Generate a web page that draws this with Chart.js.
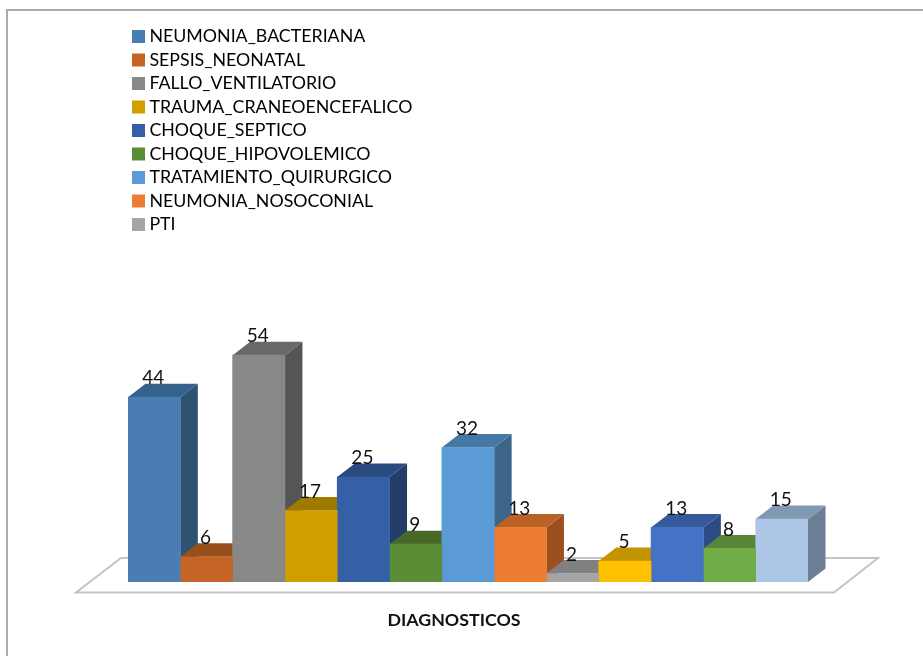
<!DOCTYPE html>
<html>
<head>
<meta charset="utf-8">
<title>DIAGNOSTICOS</title>
<script src="https://cdn.jsdelivr.net/npm/chart.js@4/dist/chart.umd.min.js"></script>
<style>
  html, body { margin: 0; padding: 0; background: #fff; }
  #wrap { width: 923px; height: 656px; position: relative; }
</style>
</head>
<body>
<div id="wrap"><canvas id="chart"></canvas></div>
<script>
const categories = ['DIAGNOSTICOS'];
// only the first nine series have a legend entry
const seriesNames = [
  'NEUMONIA_BACTERIANA', 'SEPSIS_NEONATAL', 'FALLO_VENTILATORIO',
  'TRAUMA_CRANEOENCEFALICO', 'CHOQUE_SEPTICO', 'CHOQUE_HIPOVOLEMICO',
  'TRATAMIENTO_QUIRURGICO', 'NEUMONIA_NOSOCONIAL', 'PTI'
];
const seriesValues = [44, 6, 54, 17, 25, 9, 32, 13, 2, 5, 13, 8, 15];
const frontColors = ['#4A7EB3', '#C46526', '#888888', '#D19E00', '#3560A5', '#5B8C36', '#5B9BD5', '#ED7D31', '#A5A5A5', '#FFC000', '#4472C4', '#70AD47', '#ADC6E5'];
const topColors = ['#36618A', '#97501C', '#686868', '#A07A00', '#2A4A80', '#46692A', '#4678A6', '#B96126', '#808080', '#C49400', '#35599A', '#568636', '#8098B2'];
const sideColors = ['#2E5271', '#86461A', '#555555', '#8A6800', '#233D6A', '#3A5823', '#3B6689', '#9C5020', '#6C6C6C', '#A67D00', '#2D4C84', '#4A7230', '#6C8095'];

const DEPTH_X = 17.5;
const DEPTH_Y = 13.5;
const FONT = 'Lato, "Open Sans", sans-serif';

function polygon(ctx, pts, fill) {
  ctx.beginPath();
  pts.forEach((p, i) => i ? ctx.lineTo(p[0], p[1]) : ctx.moveTo(p[0], p[1]));
  ctx.closePath();
  ctx.fillStyle = fill;
  ctx.fill();
}

// Top and left edge of the chart frame, and the legend's place inside it
const framePlugin = {
  id: 'frame',
  afterLayout(chart) {
    chart.legend.left = 130.8;
    chart.legend.top = 21.8;
  },
  beforeDraw(chart) {
    const { ctx, width, height } = chart;
    ctx.save();
    ctx.strokeStyle = '#ABABAB';
    ctx.lineWidth = 2;
    ctx.beginPath();
    ctx.moveTo(7, height);
    ctx.lineTo(7, 10);
    ctx.lineTo(width, 10);
    ctx.stroke();
    ctx.restore();
  }
};

// Floor plate, plus side and top faces of each bar. Chart.js paints the
// front faces afterwards, so they cover the faces of their neighbours.
const depthPlugin = {
  id: 'depth',
  beforeDatasetsDraw(chart) {
    const { ctx, chartArea: a } = chart;
    ctx.save();
    ctx.beginPath();
    ctx.moveTo(a.left - 52, a.bottom + 10.5);
    ctx.lineTo(a.right + 26, a.bottom + 10.5);
    ctx.lineTo(a.right + 70, a.bottom - 24);
    ctx.lineTo(a.left - 7, a.bottom - 24);
    ctx.closePath();
    ctx.fillStyle = '#fff';
    ctx.fill();
    ctx.strokeStyle = '#C4C4C4';
    ctx.lineWidth = 2;
    ctx.stroke();

    seriesValues.forEach((v, i) => {
      const bar = chart.getDatasetMeta(i).data[0];
      const l = bar.x - bar.width / 2;
      const r = bar.x + bar.width / 2;
      polygon(ctx, [[r, bar.y], [r + DEPTH_X, bar.y - DEPTH_Y], [r + DEPTH_X, bar.base - DEPTH_Y], [r, bar.base]], sideColors[i]);
      polygon(ctx, [[l, bar.y], [l + DEPTH_X, bar.y - DEPTH_Y], [r + DEPTH_X, bar.y - DEPTH_Y], [r, bar.y]], topColors[i]);
    });
    ctx.restore();
  },
  // value labels sit over the top face
  afterDatasetsDraw(chart) {
    const { ctx } = chart;
    ctx.save();
    ctx.font = '19px ' + FONT;
    ctx.fillStyle = '#111111';
    ctx.textAlign = 'center';
    ctx.textBaseline = 'middle';
    seriesValues.forEach((v, i) => {
      const bar = chart.getDatasetMeta(i).data[0];
      ctx.fillText(String(v), bar.x - 1, bar.y - 19);
    });
    ctx.restore();
  }
};

new Chart(document.getElementById('chart'), {
  type: 'bar',
  data: {
    labels: categories,
    datasets: seriesValues.map((v, i) => ({
      label: seriesNames[i] || '',
      data: [v],
      backgroundColor: frontColors[i],
      categoryPercentage: 1,
      barPercentage: 1
    }))
  },
  options: {
    responsive: true,
    maintainAspectRatio: false,
    animation: false,
    layout: { padding: { left: 128, right: 115, top: 27.6, bottom: 0 } },
    scales: {
      x: {
        grid: { display: false },
        border: { display: false },
        ticks: {
          color: '#111111',
          font: { family: FONT, size: 17.8, weight: 'bold' },
          labelOffset: -14,
          padding: 20
        },
        afterFit(scale) { scale.height = 74; }
      },
      y: { display: false, min: 0, max: 132 }
    },
    plugins: {
      tooltip: { enabled: false },
      legend: {
        position: 'chartArea',
        align: 'start',
        labels: {
          color: '#111111',
          font: { family: FONT, size: 17.8 },
          boxWidth: 4,
          boxHeight: 4,
          padding: 5.7,
          // a thick stroke grows the small box into the 13px swatch
          generateLabels(chart) {
            return seriesNames.map((name, i) => ({
              text: name,
              fillStyle: frontColors[i],
              strokeStyle: frontColors[i],
              lineWidth: 9,
              datasetIndex: i
            }));
          }
        }
      }
    }
  },
  plugins: [framePlugin, depthPlugin]
});
</script>
</body>
</html>
